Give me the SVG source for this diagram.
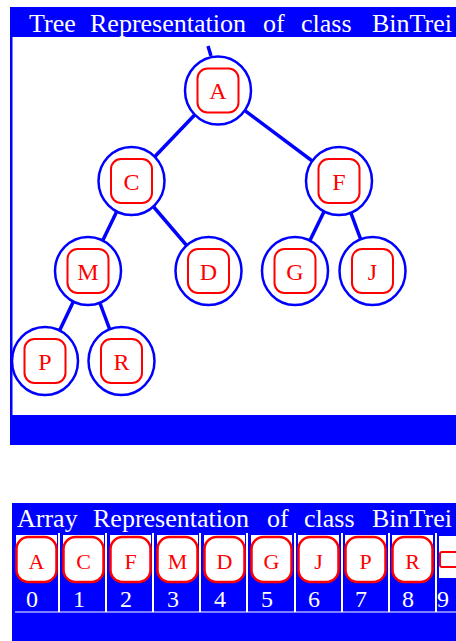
<svg xmlns="http://www.w3.org/2000/svg" width="456" height="641" viewBox="0 0 456 641">
  <style>
    .band { fill: #0000ff; }
    .title { font-family: "Liberation Serif", "Times New Roman", serif; font-size: 26px; fill: #ffffff; }
    .ring { fill: #ffffff; stroke: #0000ff; stroke-width: 2.5; }
    .box { fill: #ffffff; stroke: #ff0000; stroke-width: 2; }
    .key { font-family: "Liberation Serif", "Times New Roman", serif; font-size: 24px; fill: #ff0000; text-anchor: middle; }
    .cellkey { font-family: "Liberation Serif", "Times New Roman", serif; font-size: 22px; fill: #ff0000; text-anchor: middle; }
    .edge { stroke: #0000ff; stroke-width: 3.5; fill: none; }
    .slot { fill: #ffffff; }
    .cellbox { fill: #ffffff; stroke: #ff0000; stroke-width: 2.5; }
    .idx { font-family: "Liberation Serif", "Times New Roman", serif; font-size: 24px; fill: #ffffff; text-anchor: middle; }
    .divider { stroke: #ffffff; stroke-width: 2; }
  </style>

  <!-- tree panel frame -->
  <g id="tree-panel">
    <rect class="band" x="10" y="7" width="446" height="30"/>
    <rect class="band" x="10" y="37" width="2.5" height="378"/>
    <rect class="band" x="10" y="415" width="446" height="30"/>
    <text class="title" y="32">
      <tspan x="29">Tree</tspan><tspan x="90">Representation</tspan><tspan x="263">of</tspan><tspan x="301">class</tspan><tspan x="372">BinTrei</tspan>
    </text>
  </g>

  <!-- connectors -->
  <g id="connectors">
    <line class="edge" x1="208" y1="46" x2="211" y2="56"/>
    <line class="edge" x1="218" y1="90.5" x2="131.5" y2="181"/>
    <line class="edge" x1="218" y1="90.5" x2="339" y2="181"/>
    <line class="edge" x1="131.5" y1="181" x2="88" y2="271"/>
    <line class="edge" x1="131.5" y1="181" x2="208.5" y2="271"/>
    <line class="edge" x1="339" y1="181" x2="295" y2="271"/>
    <line class="edge" x1="339" y1="181" x2="372.5" y2="271"/>
    <line class="edge" x1="88" y1="271" x2="45" y2="361"/>
    <line class="edge" x1="88" y1="271" x2="121.5" y2="361"/>
  </g>

  <!-- tree nodes -->
  <g id="node-A" transform="translate(218 90.5)">
    <ellipse class="ring" rx="33" ry="34"/>
    <rect class="box" x="-20.5" y="-22" width="41" height="44" rx="10"/>
    <text class="key" y="8.5">A</text>
  </g>
  <g id="node-C" transform="translate(131.5 181)">
    <ellipse class="ring" rx="33" ry="34"/>
    <rect class="box" x="-20.5" y="-22" width="41" height="44" rx="10"/>
    <text class="key" y="8.5">C</text>
  </g>
  <g id="node-F" transform="translate(339 181)">
    <ellipse class="ring" rx="33" ry="34"/>
    <rect class="box" x="-20.5" y="-22" width="41" height="44" rx="10"/>
    <text class="key" y="8.5">F</text>
  </g>
  <g id="node-M" transform="translate(88 271)">
    <ellipse class="ring" rx="33" ry="34"/>
    <rect class="box" x="-20.5" y="-22" width="41" height="44" rx="10"/>
    <text class="key" y="8.5">M</text>
  </g>
  <g id="node-D" transform="translate(208.5 271)">
    <ellipse class="ring" rx="33" ry="34"/>
    <rect class="box" x="-20.5" y="-22" width="41" height="44" rx="10"/>
    <text class="key" y="8.5">D</text>
  </g>
  <g id="node-G" transform="translate(295 271)">
    <ellipse class="ring" rx="33" ry="34"/>
    <rect class="box" x="-20.5" y="-22" width="41" height="44" rx="10"/>
    <text class="key" y="8.5">G</text>
  </g>
  <g id="node-J" transform="translate(372.5 271)">
    <ellipse class="ring" rx="33" ry="34"/>
    <rect class="box" x="-20.5" y="-22" width="41" height="44" rx="10"/>
    <text class="key" y="8.5">J</text>
  </g>
  <g id="node-P" transform="translate(45 361)">
    <ellipse class="ring" rx="33" ry="34"/>
    <rect class="box" x="-20.5" y="-22" width="41" height="44" rx="10"/>
    <text class="key" y="8.5">P</text>
  </g>
  <g id="node-R" transform="translate(121.5 361)">
    <ellipse class="ring" rx="33" ry="34"/>
    <rect class="box" x="-20.5" y="-22" width="41" height="44" rx="10"/>
    <text class="key" y="8.5">R</text>
  </g>

  <!-- array panel -->
  <g id="array-panel">
    <rect class="band" x="12" y="503" width="444" height="138"/>
    <text class="title" y="527">
      <tspan x="17">Array</tspan><tspan x="93">Representation</tspan><tspan x="267">of</tspan><tspan x="304">class</tspan><tspan x="372">BinTrei</tspan>
    </text>
    <line x1="15" y1="612" x2="456" y2="612" stroke="#ffffff" stroke-width="1"/>
    <g id="dividers">
      <line class="divider" x1="59" y1="533" x2="59" y2="612"/>
      <line class="divider" x1="106" y1="533" x2="106" y2="612"/>
      <line class="divider" x1="153" y1="533" x2="153" y2="612"/>
      <line class="divider" x1="200" y1="533" x2="200" y2="612"/>
      <line class="divider" x1="247" y1="533" x2="247" y2="612"/>
      <line class="divider" x1="295" y1="533" x2="295" y2="612"/>
      <line class="divider" x1="342" y1="533" x2="342" y2="612"/>
      <line class="divider" x1="389" y1="533" x2="389" y2="612"/>
      <line class="divider" x1="436" y1="533" x2="436" y2="612"/>
    </g>
  </g>

  <!-- array cells -->
  <g id="cell-0" transform="translate(16 0)">
    <rect class="slot" x="0" y="535" width="41" height="38"/>
    <rect class="cellbox" x="0.5" y="537" width="40" height="45" rx="12"/>
    <text class="cellkey" x="20.5" y="569">A</text>
    <text class="idx" x="16" y="607">0</text>
  </g>
  <g id="cell-1" transform="translate(63 0)">
    <rect class="slot" x="0" y="535" width="41" height="38"/>
    <rect class="cellbox" x="0.5" y="537" width="40" height="45" rx="12"/>
    <text class="cellkey" x="20.5" y="569">C</text>
    <text class="idx" x="16" y="607">1</text>
  </g>
  <g id="cell-2" transform="translate(110 0)">
    <rect class="slot" x="0" y="535" width="41" height="38"/>
    <rect class="cellbox" x="0.5" y="537" width="40" height="45" rx="12"/>
    <text class="cellkey" x="20.5" y="569">F</text>
    <text class="idx" x="16" y="607">2</text>
  </g>
  <g id="cell-3" transform="translate(157 0)">
    <rect class="slot" x="0" y="535" width="41" height="38"/>
    <rect class="cellbox" x="0.5" y="537" width="40" height="45" rx="12"/>
    <text class="cellkey" x="20.5" y="569">M</text>
    <text class="idx" x="16" y="607">3</text>
  </g>
  <g id="cell-4" transform="translate(204 0)">
    <rect class="slot" x="0" y="535" width="41" height="38"/>
    <rect class="cellbox" x="0.5" y="537" width="40" height="45" rx="12"/>
    <text class="cellkey" x="20.5" y="569">D</text>
    <text class="idx" x="16" y="607">4</text>
  </g>
  <g id="cell-5" transform="translate(251 0)">
    <rect class="slot" x="0" y="535" width="41" height="38"/>
    <rect class="cellbox" x="0.5" y="537" width="40" height="45" rx="12"/>
    <text class="cellkey" x="20.5" y="569">G</text>
    <text class="idx" x="16" y="607">5</text>
  </g>
  <g id="cell-6" transform="translate(298 0)">
    <rect class="slot" x="0" y="535" width="41" height="38"/>
    <rect class="cellbox" x="0.5" y="537" width="40" height="45" rx="12"/>
    <text class="cellkey" x="20.5" y="569">J</text>
    <text class="idx" x="16" y="607">6</text>
  </g>
  <g id="cell-7" transform="translate(345 0)">
    <rect class="slot" x="0" y="535" width="41" height="38"/>
    <rect class="cellbox" x="0.5" y="537" width="40" height="45" rx="12"/>
    <text class="cellkey" x="20.5" y="569">P</text>
    <text class="idx" x="16" y="607">7</text>
  </g>
  <g id="cell-8" transform="translate(392 0)">
    <rect class="slot" x="0" y="535" width="41" height="38"/>
    <rect class="cellbox" x="0.5" y="537" width="40" height="45" rx="12"/>
    <text class="cellkey" x="20.5" y="569">R</text>
    <text class="idx" x="16" y="607">8</text>
  </g>
  <g id="cell-9" transform="translate(439 0)">
    <rect class="slot" x="0" y="536" width="17" height="42"/>
    <rect x="1" y="552" width="24" height="15" rx="2" fill="#ffffff" stroke="#ff0000" stroke-width="2"/>
    <text class="idx" x="4" y="607">9</text>
  </g>
</svg>
